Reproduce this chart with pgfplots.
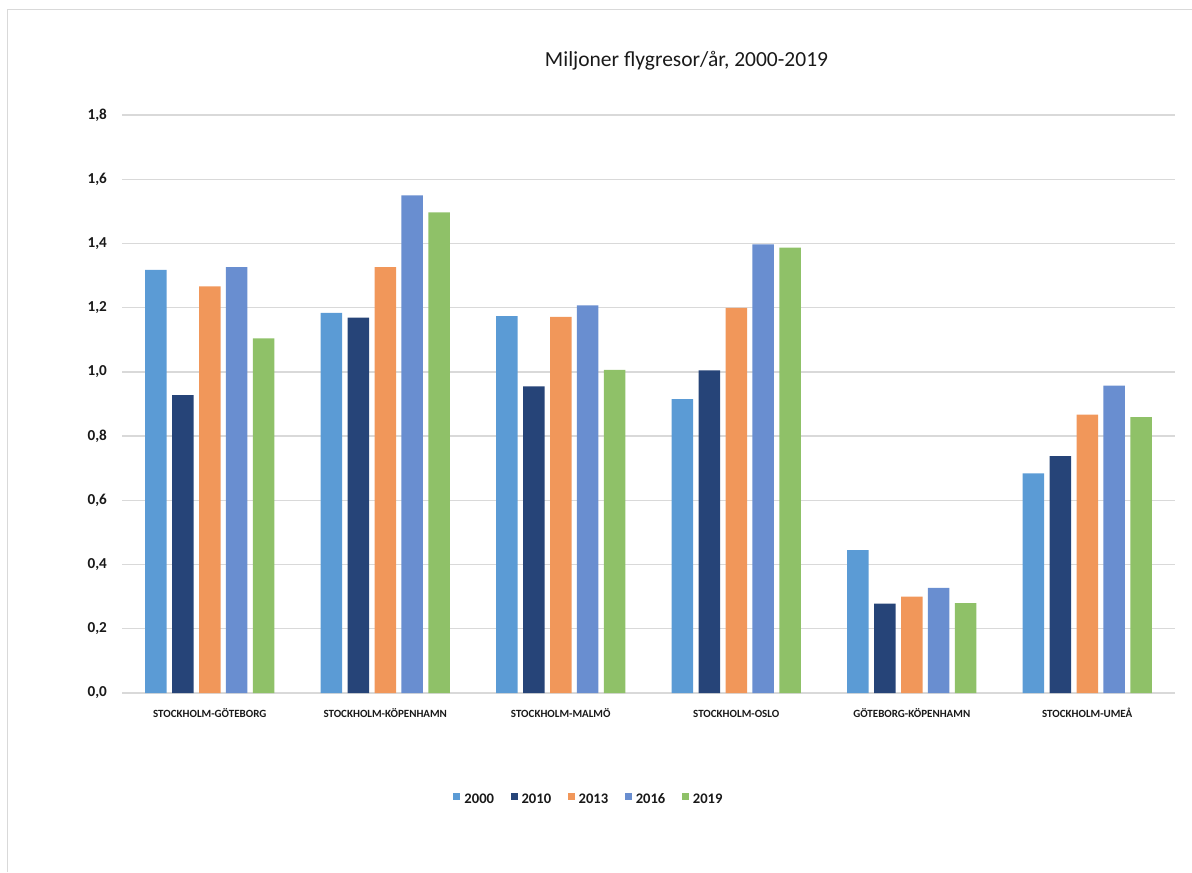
\documentclass[border=0pt]{standalone}
\usepackage{pgfplots}
\pgfplotsset{compat=1.18}
\usepackage{pgfplotstable}
\usepackage{fontspec}
\setmainfont{Carlito}
\definecolor{cA}{HTML}{5B9BD5}
\definecolor{cB}{HTML}{264478}
\definecolor{cC}{HTML}{F1975A}
\definecolor{cD}{HTML}{698ED0}
\definecolor{cE}{HTML}{8FC168}
\definecolor{gridc}{HTML}{D9D9D9}
\pgfplotstableread{
x y2000 y2010 y2013 y2016 y2019
0 1.318 0.928 1.266 1.326 1.104
1 1.184 1.169 1.326 1.550 1.497
2 1.174 0.955 1.171 1.207 1.006
3 0.915 1.005 1.199 1.397 1.387
4 0.445 0.278 0.300 0.327 0.280
5 0.684 0.738 0.867 0.957 0.859
}\datatable
\begin{document}
\begin{tikzpicture}
\path[use as bounding box] (0,0) rectangle (596pt,436pt);
\draw[gridc, line width=0.75pt] (3.75pt,0) -- (3.75pt,431.25pt) -- (596pt,431.25pt);
\node[font=\fontsize{10.75}{12}\selectfont, text=black!90] at (343.25pt,405.5pt) {Miljoner flygresor/år, 2000-2019};
\begin{axis}[
  at={(61pt,89.5pt)}, anchor=south west,
  scale only axis, width=526.5pt, height=289pt,
  ybar=2.7pt, bar width=10.75pt,
  xmin=-0.5, xmax=5.5, ymin=0, ymax=1.8,
  ytick={0,0.2,...,1.8},
  xtick=data,
  xticklabels={STOCKHOLM-GÖTEBORG,STOCKHOLM-KÖPENHAMN,STOCKHOLM-MALMÖ,STOCKHOLM-OSLO,GÖTEBORG-KÖPENHAMN,STOCKHOLM-UMEÅ},
  axis x line*=bottom, axis y line*=left,
  y axis line style={draw=none},
  x axis line style={draw=gridc, line width=0.75pt, -},
  major tick length=0pt,
  tick style={draw=none},
  ymajorgrids, major grid style={gridc, line width=0.65pt},
  yticklabel style={font=\bfseries\fontsize{7.6}{8}\selectfont, text=black!90, xshift=-4pt},
  xticklabel style={font=\bfseries\fontsize{5.5}{6}\selectfont, text=black!90, anchor=north, text height=5pt, text depth=0pt, yshift=-3.5pt},
  /pgf/number format/.cd, use comma, fixed, fixed zerofill, precision=1, assume math mode=true,
  /pgfplots/.cd,
  legend style={at={(0.4444,-0.186)}, anchor=center, draw=none, fill=none,
    legend columns=-1, font=\bfseries\fontsize{7.3}{8}\selectfont, text=black!90,
    /tikz/every even column/.append style={column sep=6.25pt},
    /tikz/every odd column/.append style={column sep=0pt}},
  legend cell align=left,
]
\addplot[fill=cA, draw=none, legend image code/.code={\fill[cA] (0pt,0.45pt) rectangle (3.5pt,3.95pt);}] table[x=x,y=y2000] {\datatable};
\addplot[fill=cB, draw=none, legend image code/.code={\fill[cB] (0pt,0.45pt) rectangle (3.5pt,3.95pt);}] table[x=x,y=y2010] {\datatable};
\addplot[fill=cC, draw=none, legend image code/.code={\fill[cC] (0pt,0.45pt) rectangle (3.5pt,3.95pt);}] table[x=x,y=y2013] {\datatable};
\addplot[fill=cD, draw=none, legend image code/.code={\fill[cD] (0pt,0.45pt) rectangle (3.5pt,3.95pt);}] table[x=x,y=y2016] {\datatable};
\addplot[fill=cE, draw=none, legend image code/.code={\fill[cE] (0pt,0.45pt) rectangle (3.5pt,3.95pt);}] table[x=x,y=y2019] {\datatable};
\legend{2000,2010,2013,2016,2019}
\end{axis}
\end{tikzpicture}
\end{document}
